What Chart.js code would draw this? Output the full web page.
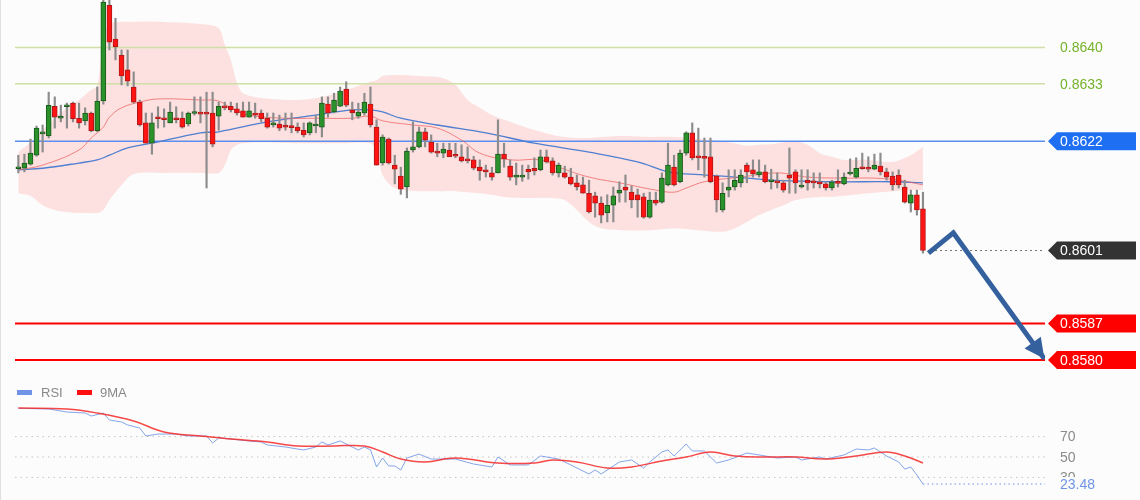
<!DOCTYPE html>
<html>
<head>
<meta charset="utf-8">
<script src="https://cdn.jsdelivr.net/npm/chart.js@4.4.0/dist/chart.umd.min.js"></script>
<style>
  html, body { margin: 0; padding: 0; background: #fbfcfb; }
  canvas { display: block; }
</style>
</head>
<body>
<canvas id="chart" width="1140" height="500"></canvas>
<script>
// candles (price), one per bar index
const opens = [
  0.86167,0.86168,0.86176,0.86193,0.86234,0.86230,0.86287,0.86264,0.86286,0.86293,
  0.86264,0.86259,0.86274,0.86240,0.86297,0.86481,0.86416,0.86385,0.86357,0.86324,
  0.86295,0.86255,0.86216,0.86266,0.86264,0.86255,0.86264,0.86264,0.86253,0.86273,
  0.86274,0.86274,0.86274,0.86268,0.86287,0.86287,0.86282,0.86278,0.86266,0.86274,
  0.86274,0.86264,0.86251,0.86253,0.86251,0.86249,0.86247,0.86241,0.86236,0.86249,
  0.86247,0.86291,0.86276,0.86287,0.86320,0.86280,0.86268,0.86274,0.86291,0.86247,
  0.86178,0.86224,0.86174,0.86153,0.86132,0.86203,0.86209,0.86238,0.86218,0.86201,
  0.86197,0.86203,0.86193,0.86190,0.86186,0.86184,0.86170,0.86165,0.86159,0.86159,
  0.86195,0.86172,0.86151,0.86151,0.86166,0.86168,0.86165,0.86190,0.86182,0.86159,
  0.86159,0.86151,0.86140,0.86136,0.86120,0.86115,0.86101,0.86082,0.86097,0.86120,
  0.86132,0.86122,0.86117,0.86113,0.86074,0.86107,0.86103,0.86136,0.86170,0.86142,
  0.86197,0.86236,0.86190,0.86188,0.86190,0.86153,0.86088,0.86126,0.86132,0.86140,
  0.86174,0.86165,0.86155,0.86161,0.86142,0.86143,0.86140,0.86155,0.86161,0.86132,
  0.86145,0.86143,0.86142,0.86138,0.86130,0.86140,0.86138,0.86157,0.86151,0.86168,
  0.86170,0.86166,0.86172,0.86161,0.86153,0.86155,0.86132,0.86101,0.86117,0.86090
];
const highs = [
  0.86193,0.86195,0.86224,0.86249,0.86251,0.86314,0.86305,0.86289,0.86293,0.86295,
  0.86293,0.86284,0.86276,0.86324,0.86501,0.86501,0.86456,0.86395,0.86395,0.86353,
  0.86299,0.86274,0.86274,0.86286,0.86282,0.86295,0.86286,0.86276,0.86276,0.86305,
  0.86305,0.86314,0.86314,0.86295,0.86295,0.86295,0.86293,0.86295,0.86295,0.86293,
  0.86280,0.86274,0.86274,0.86270,0.86274,0.86274,0.86255,0.86255,0.86257,0.86270,
  0.86305,0.86305,0.86312,0.86324,0.86334,0.86295,0.86293,0.86312,0.86324,0.86261,
  0.86232,0.86226,0.86193,0.86170,0.86207,0.86257,0.86247,0.86245,0.86232,0.86216,
  0.86216,0.86216,0.86216,0.86213,0.86209,0.86191,0.86184,0.86174,0.86170,0.86261,
  0.86216,0.86184,0.86178,0.86174,0.86174,0.86188,0.86203,0.86203,0.86188,0.86178,
  0.86172,0.86168,0.86155,0.86151,0.86145,0.86122,0.86113,0.86117,0.86132,0.86142,
  0.86155,0.86134,0.86128,0.86120,0.86122,0.86122,0.86159,0.86216,0.86193,0.86203,
  0.86238,0.86255,0.86245,0.86226,0.86226,0.86155,0.86140,0.86165,0.86165,0.86165,
  0.86178,0.86184,0.86184,0.86174,0.86166,0.86159,0.86145,0.86207,0.86165,0.86165,
  0.86165,0.86159,0.86159,0.86142,0.86145,0.86165,0.86159,0.86186,0.86188,0.86197,
  0.86190,0.86195,0.86197,0.86168,0.86161,0.86165,0.86145,0.86126,0.86126,0.86122
];
const lows = [
  0.86159,0.86161,0.86174,0.86191,0.86199,0.86226,0.86245,0.86257,0.86245,0.86257,
  0.86245,0.86251,0.86238,0.86238,0.86291,0.86395,0.86376,0.86328,0.86326,0.86293,
  0.86249,0.86216,0.86195,0.86245,0.86247,0.86255,0.86255,0.86245,0.86249,0.86270,
  0.86255,0.86130,0.86209,0.86241,0.86280,0.86276,0.86270,0.86266,0.86266,0.86264,
  0.86257,0.86245,0.86247,0.86240,0.86241,0.86236,0.86236,0.86228,0.86232,0.86236,
  0.86228,0.86266,0.86274,0.86286,0.86286,0.86261,0.86264,0.86270,0.86247,0.86174,
  0.86174,0.86176,0.86138,0.86118,0.86111,0.86199,0.86207,0.86209,0.86197,0.86190,
  0.86188,0.86190,0.86188,0.86180,0.86178,0.86165,0.86145,0.86151,0.86145,0.86159,
  0.86170,0.86145,0.86136,0.86143,0.86147,0.86155,0.86163,0.86178,0.86155,0.86151,
  0.86149,0.86136,0.86126,0.86120,0.86082,0.86074,0.86063,0.86065,0.86065,0.86103,
  0.86103,0.86092,0.86074,0.86072,0.86072,0.86097,0.86101,0.86134,0.86134,0.86140,
  0.86193,0.86184,0.86165,0.86151,0.86140,0.86084,0.86084,0.86113,0.86126,0.86132,
  0.86140,0.86151,0.86151,0.86140,0.86128,0.86130,0.86122,0.86120,0.86120,0.86130,
  0.86126,0.86130,0.86130,0.86126,0.86126,0.86132,0.86136,0.86155,0.86149,0.86166,
  0.86161,0.86165,0.86155,0.86145,0.86126,0.86130,0.86101,0.86084,0.86078,0.86005
];
const closes = [
  0.86168,0.86178,0.86197,0.86245,0.86236,0.86289,0.86266,0.86268,0.86289,0.86263,
  0.86255,0.86274,0.86240,0.86297,0.86487,0.86410,0.86401,0.86345,0.86335,0.86295,
  0.86251,0.86216,0.86255,0.86263,0.86261,0.86276,0.86261,0.86247,0.86274,0.86274,
  0.86272,0.86272,0.86214,0.86287,0.86284,0.86280,0.86274,0.86266,0.86278,0.86270,
  0.86263,0.86247,0.86255,0.86245,0.86247,0.86246,0.86240,0.86232,0.86255,0.86253,
  0.86293,0.86274,0.86299,0.86316,0.86289,0.86274,0.86276,0.86295,0.86251,0.86174,
  0.86228,0.86178,0.86166,0.86128,0.86201,0.86209,0.86238,0.86222,0.86199,0.86197,
  0.86205,0.86190,0.86191,0.86182,0.86182,0.86168,0.86163,0.86161,0.86151,0.86195,
  0.86186,0.86151,0.86155,0.86155,0.86161,0.86163,0.86190,0.86180,0.86159,0.86174,
  0.86151,0.86138,0.86132,0.86120,0.86084,0.86101,0.86078,0.86097,0.86115,0.86126,
  0.86126,0.86107,0.86107,0.86074,0.86107,0.86101,0.86149,0.86174,0.86136,0.86197,
  0.86236,0.86188,0.86188,0.86187,0.86142,0.86107,0.86120,0.86132,0.86145,0.86155,
  0.86161,0.86157,0.86161,0.86142,0.86145,0.86140,0.86126,0.86149,0.86140,0.86134,
  0.86140,0.86140,0.86138,0.86130,0.86142,0.86139,0.86151,0.86159,0.86168,0.86167,
  0.86166,0.86174,0.86161,0.86151,0.86136,0.86136,0.86103,0.86117,0.86088,0.86010
];

// bollinger envelope, read at sampled bars
const bandIdx = [0,2,4,6,8,10,12,13,14,15,17,19,24,30,33,34,35,36,37,40,46,50,54,58,59,60,62,66,70,72,
  74,76,78,80,84,88,90,92,94,96,100,104,108,112,116,118,120,122,124,126,128,130,132,134,136,140,144,147,149];
const bandUpper = [0.86199,0.86218,0.86241,0.86264,0.86284,0.86299,0.86318,0.86326,0.86414,0.86445,
  0.86449,0.86449,0.86449,0.86445,0.86437,0.86405,0.86376,0.86332,0.86312,0.86303,
  0.86299,0.86305,0.86318,0.86334,0.86337,0.86345,0.86347,0.86345,0.86341,0.86328,
  0.86299,0.86284,0.86270,0.86261,0.86245,0.86232,0.86228,0.86226,0.86226,0.86228,
  0.86230,0.86228,0.86228,0.86224,0.86220,0.86216,0.86211,0.86213,0.86214,0.86218,
  0.86220,0.86213,0.86197,0.86190,0.86184,0.86184,0.86180,0.86193,0.86209];
const bandLower = [0.86120,0.86115,0.86097,0.86088,0.86084,0.86082,0.86082,0.86082,0.86088,0.86107,
  0.86136,0.86157,0.86159,0.86159,0.86159,0.86174,0.86203,0.86213,0.86216,0.86218,
  0.86216,0.86216,0.86216,0.86216,0.86203,0.86155,0.86130,0.86124,0.86124,0.86124,
  0.86122,0.86120,0.86117,0.86113,0.86111,0.86111,0.86107,0.86088,0.86065,0.86053,
  0.86049,0.86049,0.86053,0.86049,0.86046,0.86053,0.86065,0.86078,0.86088,0.86097,
  0.86107,0.86111,0.86113,0.86113,0.86115,0.86120,0.86124,0.86126,0.86126];

// moving averages
const fastIdx = [0,4,10,12,14,15,17,20,23,30,33,35,38,44,49,55,58,60,65,69,73,76,81,86,89,94,99,105,108,110,113,119,125,130,136,141,145,149];
const fastMa = [0.86165,0.86174,0.86203,0.86226,0.86247,0.86266,0.86284,0.86295,0.86301,0.86299,
  0.86297,0.86284,0.86270,0.86264,0.86264,0.86264,0.86268,0.86259,0.86251,0.86245,
  0.86222,0.86197,0.86184,0.86184,0.86170,0.86151,0.86140,0.86126,0.86122,0.86130,
  0.86142,0.86151,0.86159,0.86151,0.86149,0.86149,0.86145,0.86136];
const slowIdx = [0,4,10,13,15,18,22,30,33,41,49,55,58,60,63,69,77,85,94,102,107,110,116,120,124,130,135,144,149];
const slowMa = [0.86165,0.86168,0.86178,0.86184,0.86193,0.86207,0.86216,0.86236,0.86238,0.86257,
  0.86270,0.86280,0.86280,0.86276,0.86264,0.86251,0.86236,0.86216,0.86199,0.86180,
  0.86161,0.86157,0.86153,0.86149,0.86145,0.86143,0.86142,0.86142,0.86140];

// price levels
const greenLevels = [0.8640, 0.8633];
const blueLevel = 0.8622;
const lastPrice = 0.8601;
const redLevels = [0.8587, 0.8580];

// projected path
const arrowIdx = [149.9, 154.0, 169.0];
const arrowVal = [0.86005, 0.86044, 0.85802];

// RSI panel
const rsiIdx = [0,5,8,11,12,14,15,17,18,20,21,23,26,28,31,32,33,35,38,40,41,44,46,47,49,50,51,53,55,56,
  57,58,59,60,61,62,63,64,66,68,72,75,78,79,81,84,86,89,91,94,95,96,99,101,103,104,106,107,108,110,
  111,113,115,117,120,122,125,128,129,132,133,136,138,140,141,143,145,146,147,148,149];
const rsiVal = [97.7,97.1,94.1,93.1,90.2,93.1,86.3,84.3,81.4,78.4,70.6,72.5,72.5,70.6,70.6,63.7,68.6,67.6,65.7,64.7,
  61.8,59.8,57.8,56.9,59.8,64.7,61.8,65.7,59.8,56.9,59.8,57,40.2,49,41.2,41.2,37.3,49,52.9,48,
  48,43.1,40.2,50,42.2,42.2,51,48,42.2,33.3,37.3,33.3,45.1,47.1,39.2,45.1,54.9,56.9,51,62.7,
  55.9,55.9,44.1,47.1,53.9,52,49,50,47.1,50,48,52,57.8,56.9,58.8,51,45.1,38.2,40.2,32.4,23.48];
const rsiMaIdx = [0,8,13,19,24,30,35,41,46,52,57,60,63,67,72,79,85,88,92,97,101,106,110,114,118,123,128,133,138,143,146,149];
const rsiMaVal = [98,97.1,93.1,85.3,74.5,70.6,67.6,64.7,60.8,60.8,60.8,54.9,48,45.1,49,44.1,44.1,47.1,45.1,39.2,
  40.2,46.1,50,54.9,51,50,50,48,51,54.9,51,44.1];
const rsiLevels = [70, 50, 30];
const rsiLast = 23.48;

const X_MIN = -0.55, X_MAX = 169.1;
const pts = (xs, ys) => xs.map((x, i) => ({ x: x, y: ys[i] }));
const hline = (v, from) => [{ x: from === undefined ? X_MIN : from, y: v }, { x: X_MAX, y: v }];
const up = (i) => closes[i] >= opens[i];

const FONT = '"Liberation Sans", Arial, sans-serif';

const overlay = {
  id: 'overlay',
  beforeDraw(chart) {
    const ctx = chart.ctx;
    ctx.save();
    ctx.fillStyle = '#fbfcfb';
    ctx.fillRect(0, 0, chart.width, chart.height);
    ctx.fillStyle = '#e0e0e0';
    ctx.fillRect(0, 0, 1, chart.height);
    ctx.restore();
  },
  afterDatasetsDraw(chart) {
    // arrow head at end of projected path
    const meta = chart.getDatasetMeta(chart.data.datasets.length - 1);
    const a = meta.data[meta.data.length - 2], b = meta.data[meta.data.length - 1];
    const ang = Math.atan2(b.y - a.y, b.x - a.x);
    const ctx = chart.ctx;
    ctx.save();
    ctx.fillStyle = '#34619e';
    ctx.beginPath();
    ctx.moveTo(b.x, b.y);
    ctx.lineTo(b.x - 20 * Math.cos(ang) + 10 * Math.sin(ang), b.y - 20 * Math.sin(ang) - 10 * Math.cos(ang));
    ctx.lineTo(b.x - 20 * Math.cos(ang) - 10 * Math.sin(ang), b.y - 20 * Math.sin(ang) + 10 * Math.cos(ang));
    ctx.closePath();
    ctx.fill();
    ctx.restore();
  },
  afterDraw(chart) {
    const ctx = chart.ctx;
    const y = chart.scales.y, yr = chart.scales.yr;
    const left = chart.chartArea.right + 3;
    ctx.save();
    ctx.font = '14px ' + FONT;
    ctx.textBaseline = 'middle';

    const tag = (py, text, bg, fg) => {
      if (bg) {
        ctx.fillStyle = bg;
        ctx.beginPath();
        ctx.moveTo(left, py);
        ctx.lineTo(left + 9, py - 9);
        ctx.lineTo(1136, py - 9);
        ctx.lineTo(1136, py + 9);
        ctx.lineTo(left + 9, py + 9);
        ctx.closePath();
        ctx.fill();
      }
      ctx.fillStyle = fg;
      ctx.fillText(text, 1060, py + 1);
    };

    greenLevels.forEach(v => tag(y.getPixelForValue(v), v.toFixed(4), null, '#76b22c'));
    tag(y.getPixelForValue(blueLevel), blueLevel.toFixed(4), '#1f6ff2', '#ffffff');
    tag(y.getPixelForValue(lastPrice), lastPrice.toFixed(4), '#333333', '#ffffff');
    redLevels.forEach(v => tag(y.getPixelForValue(v), v.toFixed(4), '#ff0000', '#ffffff'));

    rsiLevels.forEach(v => tag(yr.getPixelForValue(v), String(v), null, '#8a8a8a'));
    const pl = yr.getPixelForValue(rsiLast);
    ctx.fillStyle = '#fbfcfb';
    ctx.fillRect(1056, pl - 7, 60, 18);
    tag(pl, rsiLast.toFixed(2), null, '#6f93e6');

    // legend of the RSI panel
    ctx.font = '13px ' + FONT;
    ctx.fillStyle = '#6f93e6';
    ctx.fillRect(17, 390, 15, 5);
    ctx.fillStyle = '#ff1010';
    ctx.fillRect(77, 390, 15, 5);
    ctx.fillStyle = '#888888';
    ctx.fillText('RSI', 41, 393);
    ctx.fillText('9MA', 100, 393);
    ctx.restore();
  }
};

const lineBase = { type: 'line', pointRadius: 0, fill: false };

new Chart(document.getElementById('chart'), {
  type: 'bar',
  data: {
    datasets: [
      { ...lineBase, data: pts(bandIdx, bandUpper), borderWidth: 0, borderColor: 'rgba(0,0,0,0)', tension: 0.3, order: 20 },
      { ...lineBase, data: pts(bandIdx, bandLower), borderWidth: 0, borderColor: 'rgba(0,0,0,0)', tension: 0.3,
        fill: '-1', backgroundColor: 'rgba(255,185,185,0.42)', order: 20 },
      { ...lineBase, data: hline(greenLevels[0]), borderColor: '#cfdfa6', borderWidth: 1.5, order: 15 },
      { ...lineBase, data: hline(greenLevels[1]), borderColor: '#cfdfa6', borderWidth: 1.5, order: 15 },
      { ...lineBase, data: hline(blueLevel), borderColor: '#5a8ff0', borderWidth: 1.5, order: 15 },
      { ...lineBase, data: hline(redLevels[0]), borderColor: '#ff0000', borderWidth: 2, order: 15 },
      { ...lineBase, data: hline(redLevels[1]), borderColor: '#ff0000', borderWidth: 2, order: 15 },
      { ...lineBase, data: pts(fastIdx, fastMa), borderColor: 'rgba(235,90,90,0.7)', borderWidth: 1, tension: 0.4, order: 12 },
      { ...lineBase, data: pts(slowIdx, slowMa), borderColor: '#4f7fd0', borderWidth: 1.3, tension: 0.4, order: 12 },
      {
        data: lows.map((l, i) => ({ x: i, y: [l, highs[i]] })),
        backgroundColor: '#8c8c8c', barThickness: 1.5, grouped: false, order: 8
      },
      {
        data: opens.map((o, i) => ({ x: i, y: [o, closes[i]] })),
        backgroundColor: opens.map((o, i) => up(i) ? '#2a922a' : '#ff1414'),
        borderColor: opens.map((o, i) => up(i) ? '#1b5a1b' : '#b01818'),
        borderWidth: 1, borderSkipped: false, minBarLength: 2,
        barThickness: 5, grouped: false, order: 6
      },
      { ...lineBase, data: hline(lastPrice, 150.2), borderColor: '#444', borderWidth: 1, borderDash: [1.5, 3.5], order: 5 },
      ...rsiLevels.map(v => ({ ...lineBase, yAxisID: 'yr', data: hline(v), borderColor: '#c4c4c4', borderWidth: 1, borderDash: [1.5, 4], order: 5 })),
      { ...lineBase, yAxisID: 'yr', data: pts(rsiIdx, rsiVal), borderColor: '#86a6ea', borderWidth: 1, tension: 0, order: 4 },
      { ...lineBase, yAxisID: 'yr', data: pts(rsiMaIdx, rsiMaVal), borderColor: 'rgba(245,40,40,0.85)', borderWidth: 1.5, tension: 0.4, order: 3 },
      { ...lineBase, yAxisID: 'yr', data: hline(rsiLast, 149), borderColor: '#6f93e6', borderWidth: 1, borderDash: [1.5, 3], order: 3 },
      { ...lineBase, data: pts(arrowIdx, arrowVal), borderColor: '#34619e', borderWidth: 5, borderJoinStyle: 'miter', tension: 0, order: 1 }
    ]
  },
  options: {
    responsive: false,
    animation: false,
    events: [],
    layout: { padding: { left: 15, right: 95, top: 0, bottom: 0 } },
    plugins: { legend: { display: false }, tooltip: { enabled: false } },
    scales: {
      x: { type: 'linear', min: X_MIN, max: X_MAX, offset: false, display: false },
      y: { min: 0.85531, max: 0.86491, display: false },
      yr: { min: 7.84, max: 498.04, display: false }
    }
  },
  plugins: [overlay]
});
</script>
</body>
</html>
